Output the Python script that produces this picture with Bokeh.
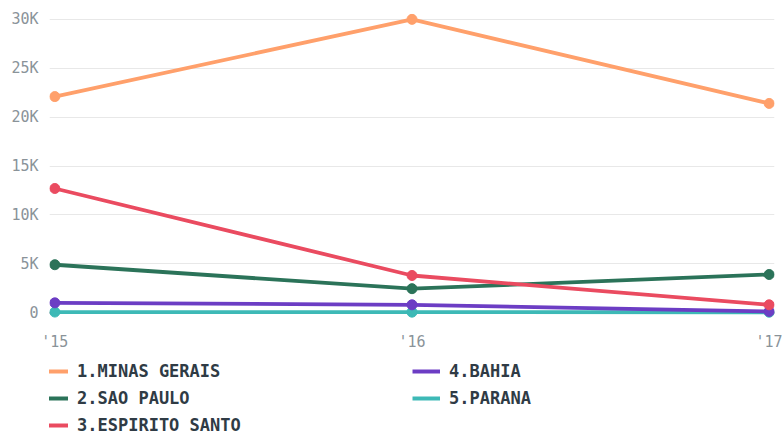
from bokeh.plotting import figure
from bokeh.layouts import column
from bokeh.models import Range1d, Legend, LegendItem, Span, FixedTicker, ColumnDataSource
from bokeh.embed import file_html
from bokeh.resources import INLINE

years = ["'15", "'16", "'17"]
x_idx = [0, 1, 2]
series_names = ["1.MINAS GERAIS", "2.SAO PAULO", "3.ESPIRITO SANTO", "4.BAHIA", "5.PARANA"]
minas_gerais = [22100, 30000, 21400]
sao_paulo = [4900, 2450, 3900]
espirito_santo = [12700, 3800, 800]
bahia = [1000, 800, 120]
parana = [60, 50, 40]
colors = ["#ffa06b", "#2b7359", "#ea4b60", "#6c3dc4", "#3db9b6"]
y_ticks = [0, 5000, 10000, 15000, 20000, 25000, 30000]
y_tick_labels = {0: "0", 5000: "5K", 10000: "10K", 15000: "15K", 20000: "20K", 25000: "25K", 30000: "30K"}

p = figure(width=782, height=355, output_backend="svg", toolbar_location=None,
           x_range=Range1d(-0.015, 2.015), y_range=Range1d(-600, 30600),
           min_border_left=49, min_border_top=13, min_border_right=8, min_border_bottom=37)
p.outline_line_color = None
p.background_fill_color = "white"

p.xgrid.grid_line_color = None
p.ygrid.grid_line_color = "#e8e8e8"
p.ygrid.grid_line_width = 1

p.yaxis.ticker = FixedTicker(ticks=y_ticks)
p.yaxis.major_label_overrides = y_tick_labels
p.xaxis.ticker = FixedTicker(ticks=x_idx)
p.xaxis.major_label_overrides = {i: y for i, y in zip(x_idx, years)}
for ax in (p.xaxis, p.yaxis):
    ax.axis_line_color = None
    ax.major_tick_line_color = None
    ax.minor_tick_line_color = None
    ax.major_tick_out = 0
    ax.major_tick_in = 0
    ax.major_label_text_font = "DejaVu Sans Mono"
    ax.major_label_text_font_size = "15px"
    ax.major_label_text_color = "#8a9399"
p.yaxis.major_label_standoff = 11
p.xaxis.major_label_standoff = 14

p.add_layout(Span(location=0, dimension="width", line_color="#2d3b45", line_width=2, level="underlay"))

data = [minas_gerais, sao_paulo, espirito_santo, bahia, parana]
order = [4, 3, 1, 2, 0]
for i in order:
    src = ColumnDataSource(dict(x=x_idx, y=data[i]))
    p.line("x", "y", source=src, line_color=colors[i], line_width=3.8)
    p.scatter("x", "y", source=src, size=10, fill_color=colors[i], line_color=colors[i])

# Legend panel
lg = figure(width=782, height=80, output_backend="svg", toolbar_location=None,
            x_range=Range1d(0, 1), y_range=Range1d(0, 1),
            x_axis_location=None, y_axis_location=None,
            min_border_left=0, min_border_right=0, min_border_top=0, min_border_bottom=0)
lg.grid.visible = False
lg.outline_line_color = None
items = []
for i in range(5):
    r = lg.line(x=[-10, -9], y=[-10, -9], line_color=colors[i], line_width=4)
    items.append(LegendItem(label=series_names[i], renderers=[r]))

legend = Legend(items=items, orientation="vertical", nrows=3, location=(-9, 0),
                label_text_font="DejaVu Sans Mono", label_text_font_style="bold",
                label_text_font_size="17px", label_text_color="#2f3b45",
                glyph_width=28, glyph_height=20, label_height=20, label_standoff=9,
                label_width=328, spacing=7, padding=0, margin=0,
                border_line_color=None, background_fill_alpha=0)
lg.add_layout(legend, "center")

layout = column(p, lg, spacing=0)
open("out.html", "w").write(file_html(layout, INLINE))
